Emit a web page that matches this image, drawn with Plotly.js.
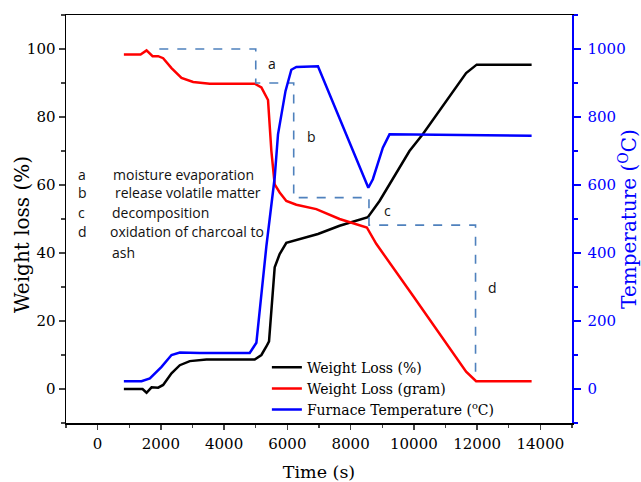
<!DOCTYPE html>
<html>
<head>
<meta charset="utf-8">
<script src="https://cdn.plot.ly/plotly-3.0.1.min.js"></script>
<style>html,body{margin:0;padding:0;background:#fff;}#chart{width:641px;height:482px;}</style>
</head>
<body>
<div id="chart"></div>
<script>
// Weight Loss (%) — black
const timeLossPct = [830, 1420, 1547, 1705, 1914, 2072, 2336, 2599, 2914, 3441, 4967, 5178, 5336, 5420, 5599, 5756, 5967, 6967, 7651, 8545, 8914, 9861, 10281, 11652, 11987, 13723];
const lossPct = [0, 0, -1.1, 0.5, 0.4, 1.2, 4.6, 7, 8.2, 8.7, 8.7, 10, 12.5, 14, 35.8, 39.7, 43, 45.6, 48, 50.5, 55.3, 70, 74.9, 92.9, 95.4, 95.4];

// Weight Loss (gram) — red
const timeLossGram = [830, 1358, 1547, 1737, 1914, 2072, 2336, 2652, 3020, 3546, 4967, 5178, 5388, 5494, 5599, 5756, 5967, 6284, 6915, 7651, 8513, 8810, 9966, 11652, 11968, 13723];
const lossGram = [98.4, 98.4, 99.6, 97.9, 97.9, 97.3, 94.4, 91.5, 90.3, 89.8, 89.8, 88.7, 85, 70, 60.2, 57.8, 55.3, 54.2, 52.9, 50, 47.5, 42.7, 27.5, 5.1, 2.3, 2.3];

// Furnace Temperature (°C) — blue
const timeTemp = [830, 1388, 1652, 2021, 2336, 2599, 3230, 4809, 5020, 5178, 5336, 5599, 5704, 5940, 6125, 6284, 6967, 8560, 8703, 9019, 9230, 13723];
const furnaceTemp = [23, 23, 31, 65, 100, 107, 106, 106, 136, 270, 420, 622, 749, 876, 939, 947, 949, 592, 617, 710, 749, 745];

// Stage boundary step line (dashed)
const stageTime = [1950, 5000, 5000, 6200, 6200, 8580, 8580, 11950, 11950];
const stageLevel = [100, 100, 90, 90, 56.3, 56.3, 48.2, 48.2, 5];

// Stage labels
const stageLetters = ['a', 'b', 'c', 'd'];
const stageLetterX = [5504, 6766, 9176, 12491];
const stageLetterY = [95.8, 74.4, 52.4, 29.8];

// Description text
const descLetters = ['a', 'b', 'c', 'd', ''];
const descTexts = ['moisture evaporation', 'release volatile matter', 'decomposition', 'oxidation of charcoal to', 'ash'];
const descY = [63.2, 57.7, 51.8, 46.3, 40.1];
const descTextX = [430, 480, 380, 340, 380];

const serif = 'DejaVu Serif';
const sans = 'Open Sans';

const traces = [
  {x: timeLossPct, y: lossPct, type: 'scatter', mode: 'lines', name: 'Weight Loss (%)',
   line: {color: '#000000', width: 2.5}, yaxis: 'y'},
  {x: timeLossGram, y: lossGram, type: 'scatter', mode: 'lines', name: 'Weight Loss (gram)',
   line: {color: '#ff0000', width: 2.5}, yaxis: 'y'},
  {x: timeTemp, y: furnaceTemp, type: 'scatter', mode: 'lines', name: 'Furnace Temperature (<sup>o</sup>C)',
   line: {color: '#0000ff', width: 2.5}, yaxis: 'y2'},
  {x: stageTime, y: stageLevel, type: 'scatter', mode: 'lines', showlegend: false, hoverinfo: 'skip',
   line: {color: '#4f81bd', width: 1.6, dash: 'dash'}, yaxis: 'y'}
];

const annotations = [];
stageLetters.forEach((s, i) => annotations.push({
  x: stageLetterX[i], y: stageLetterY[i], xref: 'x', yref: 'y', text: s, showarrow: false,
  font: {family: sans, size: 14, color: '#111'}
}));
descTexts.forEach((t, i) => {
  if (descLetters[i]) annotations.push({
    x: -680, y: descY[i], xref: 'x', yref: 'y', text: descLetters[i], showarrow: false,
    xanchor: 'left', font: {family: sans, size: 14, color: '#111'}
  });
  annotations.push({
    x: descTextX[i], y: descY[i], xref: 'x', yref: 'y', text: t, showarrow: false,
    xanchor: 'left', font: {family: sans, size: 14, color: '#111'}
  });
});
// Left axis title (placed as rotated text next to the tick labels)
annotations.push({
  xref: 'paper', yref: 'paper', x: -0.087, y: 0.463, xanchor: 'center', yanchor: 'middle',
  text: 'Weight loss (%)', textangle: -90, showarrow: false,
  font: {family: serif, size: 20, color: '#000'}
});

const layout = {
  width: 641, height: 482,
  margin: {l: 66, r: 69, t: 15, b: 59, pad: 0},
  paper_bgcolor: '#ffffff', plot_bgcolor: '#ffffff',
  font: {family: serif, size: 15, color: '#000'},
  showlegend: true,
  legend: {x: 0.397, y: 0.175, xanchor: 'left', yanchor: 'top', bgcolor: 'rgba(0,0,0,0)',
           font: {family: serif, size: 14, color: '#000'}},
  xaxis: {range: [-1000, 15000], tick0: 0, dtick: 2000, tickformat: 'd', ticks: 'outside', ticklen: 5, tickwidth: 1.5,
          showline: true, linecolor: '#000', linewidth: 1.5, mirror: true, showgrid: false, zeroline: false,
          minor: {dtick: 1000, ticks: 'outside', ticklen: 3, tickwidth: 1.2, showgrid: false},
          tickfont: {family: serif, size: 15}, ticklabelstandoff: 1,
          title: {text: 'Time (s)', font: {family: serif, size: 17.5}}},
  yaxis: {range: [-10, 110], tick0: 0, dtick: 20, ticks: 'outside', ticklen: 6, tickwidth: 1.5,
          showline: true, linecolor: '#000', linewidth: 1.5, showgrid: false, zeroline: false,
          minor: {dtick: 10, ticks: 'outside', ticklen: 4, tickwidth: 1.2, showgrid: false},
          tickfont: {family: serif, size: 15}},
  yaxis2: {range: [-100, 1100], overlaying: 'y', side: 'right', tick0: 0, dtick: 200,
           ticks: 'outside', ticklen: 7, tickwidth: 1.5, tickcolor: '#0000ff',
           showline: true, linecolor: '#0000ff', linewidth: 1.5, showgrid: false, zeroline: false,
           minor: {dtick: 100, ticks: 'outside', ticklen: 4, tickwidth: 1.2, tickcolor: '#0000ff', showgrid: false},
           tickfont: {family: serif, size: 15, color: '#0000ff'}, ticklabelstandoff: 4,
           title: {text: 'Temperature (<sup>O</sup>C)', font: {family: serif, size: 20, color: '#0000ff'}}},
  yaxis3: {range: [-100, 1100], overlaying: 'y', side: 'right', tick0: 0, dtick: 200,
           ticks: 'inside', ticklen: 6, tickwidth: 1.5, tickcolor: '#0000ff', showticklabels: false,
           showline: false, showgrid: false, zeroline: false,
           minor: {dtick: 100, ticks: 'inside', ticklen: 4, tickwidth: 1.2, tickcolor: '#0000ff', showgrid: false}},
  annotations: annotations
};

Plotly.newPlot('chart', traces, layout, {displayModeBar: false, staticPlot: true});
</script>
</body>
</html>
